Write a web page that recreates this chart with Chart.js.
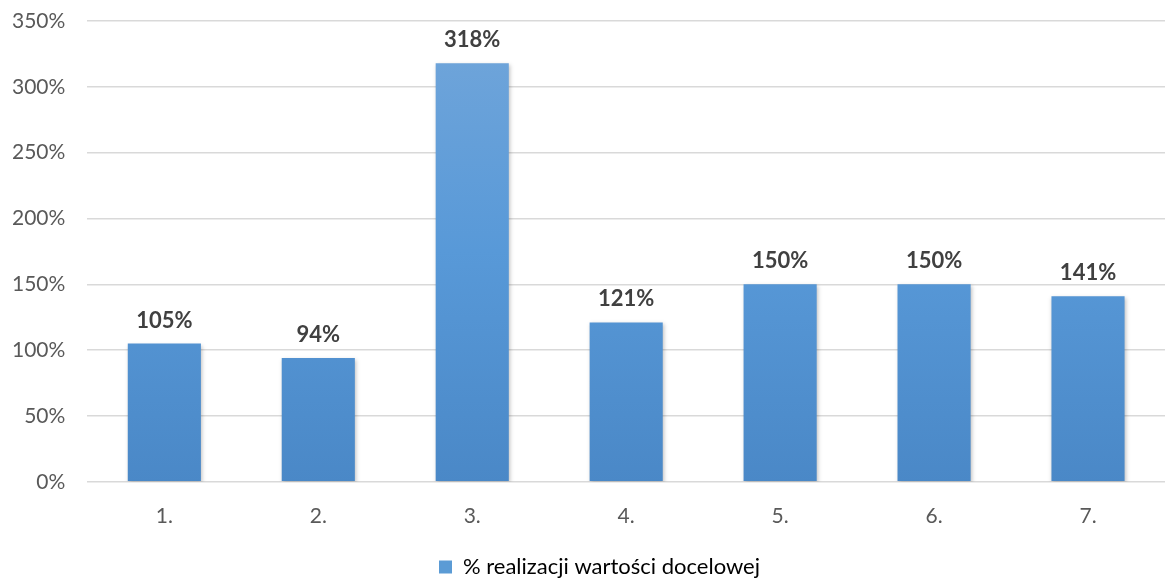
<!DOCTYPE html>
<html>
<head>
<meta charset="utf-8">
<script src="https://cdn.jsdelivr.net/npm/chart.js@4"></script>
<style>
  body { margin: 0; background: #fff; }
  #wrap { width: 1165px; height: 578px; }
</style>
</head>
<body>
<div id="wrap"><canvas id="graph1"></canvas></div>
<script>
/* dane */
var categories = ['1.', '2.', '3.', '4.', '5.', '6.', '7.']
var values = [1.05, 0.94, 3.18, 1.21, 1.50, 1.50, 1.41]
var seriesLabel = '% realizacji wartości docelowej'

var fontFamily = "Lato, 'Open Sans', sans-serif"

function barGradient(context) {
  var chart = context.chart
  var area = chart.chartArea
  if (!area) return '#5B9BD5'
  var g = chart.ctx.createLinearGradient(0, area.top, 0, area.bottom)
  g.addColorStop(0, '#72A6DA')
  g.addColorStop(0.5, '#5899D8')
  g.addColorStop(1, '#4A88C7')
  return g
}

// ombre legere sous les barres
var shadowPlugin = {
  id: 'barShadow',
  beforeDatasetsDraw: function (chart) {
    var ctx = chart.ctx
    ctx.save()
    ctx.shadowColor = 'rgba(0,0,0,0.25)'
    ctx.shadowBlur = 4
    ctx.shadowOffsetX = 1
    ctx.shadowOffsetY = 2
  },
  afterDatasetsDraw: function (chart) {
    chart.ctx.restore()
  }
}

// legende un peu plus bas et a droite
var legendShift = {
  id: 'legendShift',
  afterLayout: function (chart) {
    var lg = chart.legend
    if (!lg) return
    lg.top += 10
    lg.bottom += 10
    lg.left += 22
    lg.right += 22
  }
}

// etiquettes de valeur au-dessus des barres
var labelPlugin = {
  id: 'valueLabels',
  afterDatasetsDraw: function (chart) {
    var ctx = chart.ctx
    var meta = chart.getDatasetMeta(0)
    ctx.save()
    ctx.font = 'bold 22px ' + fontFamily
    ctx.fillStyle = '#404040'
    ctx.textAlign = 'center'
    ctx.textBaseline = 'alphabetic'
    meta.data.forEach(function (bar, i) {
      var v = chart.data.datasets[0].data[i]
      ctx.fillText(Math.round(v * 100) + '%', bar.x, bar.y - 16)
    })
    ctx.restore()
  }
}

var ctx1 = document.getElementById('graph1').getContext('2d')

var config1 = {
  type: 'bar',
  data: {
    labels: categories,
    datasets: [
      {
        label: seriesLabel,
        data: values,
        backgroundColor: barGradient,
        borderWidth: 0,
        categoryPercentage: 1,
        barPercentage: 0.475
      }
    ]
  },
  options: {
    responsive: true,
    maintainAspectRatio: false,
    animation: false,
    layout: { padding: { top: 0, right: 0, left: -10, bottom: 0 } },
    plugins: {
      legend: {
        position: 'bottom',
        labels: {
          font: { family: fontFamily, size: 22 },
          color: '#595959',
          boxWidth: 13,
          boxHeight: 13,
          padding: 0,
          generateLabels: function (chart) {
            return [{
              text: seriesLabel,
              fillStyle: '#5B9BD5',
              strokeStyle: '#5B9BD5',
              lineWidth: 0,
              datasetIndex: 0
            }]
          }
        }
      },
      tooltip: { enabled: false }
    },
    scales: {
      x: {
        grid: { display: false },
        border: { display: false },
        ticks: {
          font: { family: fontFamily, size: 21 },
          color: '#595959',
          padding: 14
        },
        afterFit: function (scale) { scale.height += 3 }
      },
      y: {
        min: 0,
        max: 3.5,
        border: { display: false },
        grid: { color: '#D9D9D9', lineWidth: 1.5, drawTicks: false },
        ticks: {
          stepSize: 0.5,
          font: { family: fontFamily, size: 21 },
          color: '#595959',
          padding: 22,
          callback: function (v) { return Math.round(v * 100) + '%' }
        },
        afterFit: function (scale) { scale.paddingTop = 21 }
      }
    }
  },
  plugins: [shadowPlugin, legendShift, labelPlugin]
}

var graph1 = new Chart(ctx1, config1)
</script>
</body>
</html>
